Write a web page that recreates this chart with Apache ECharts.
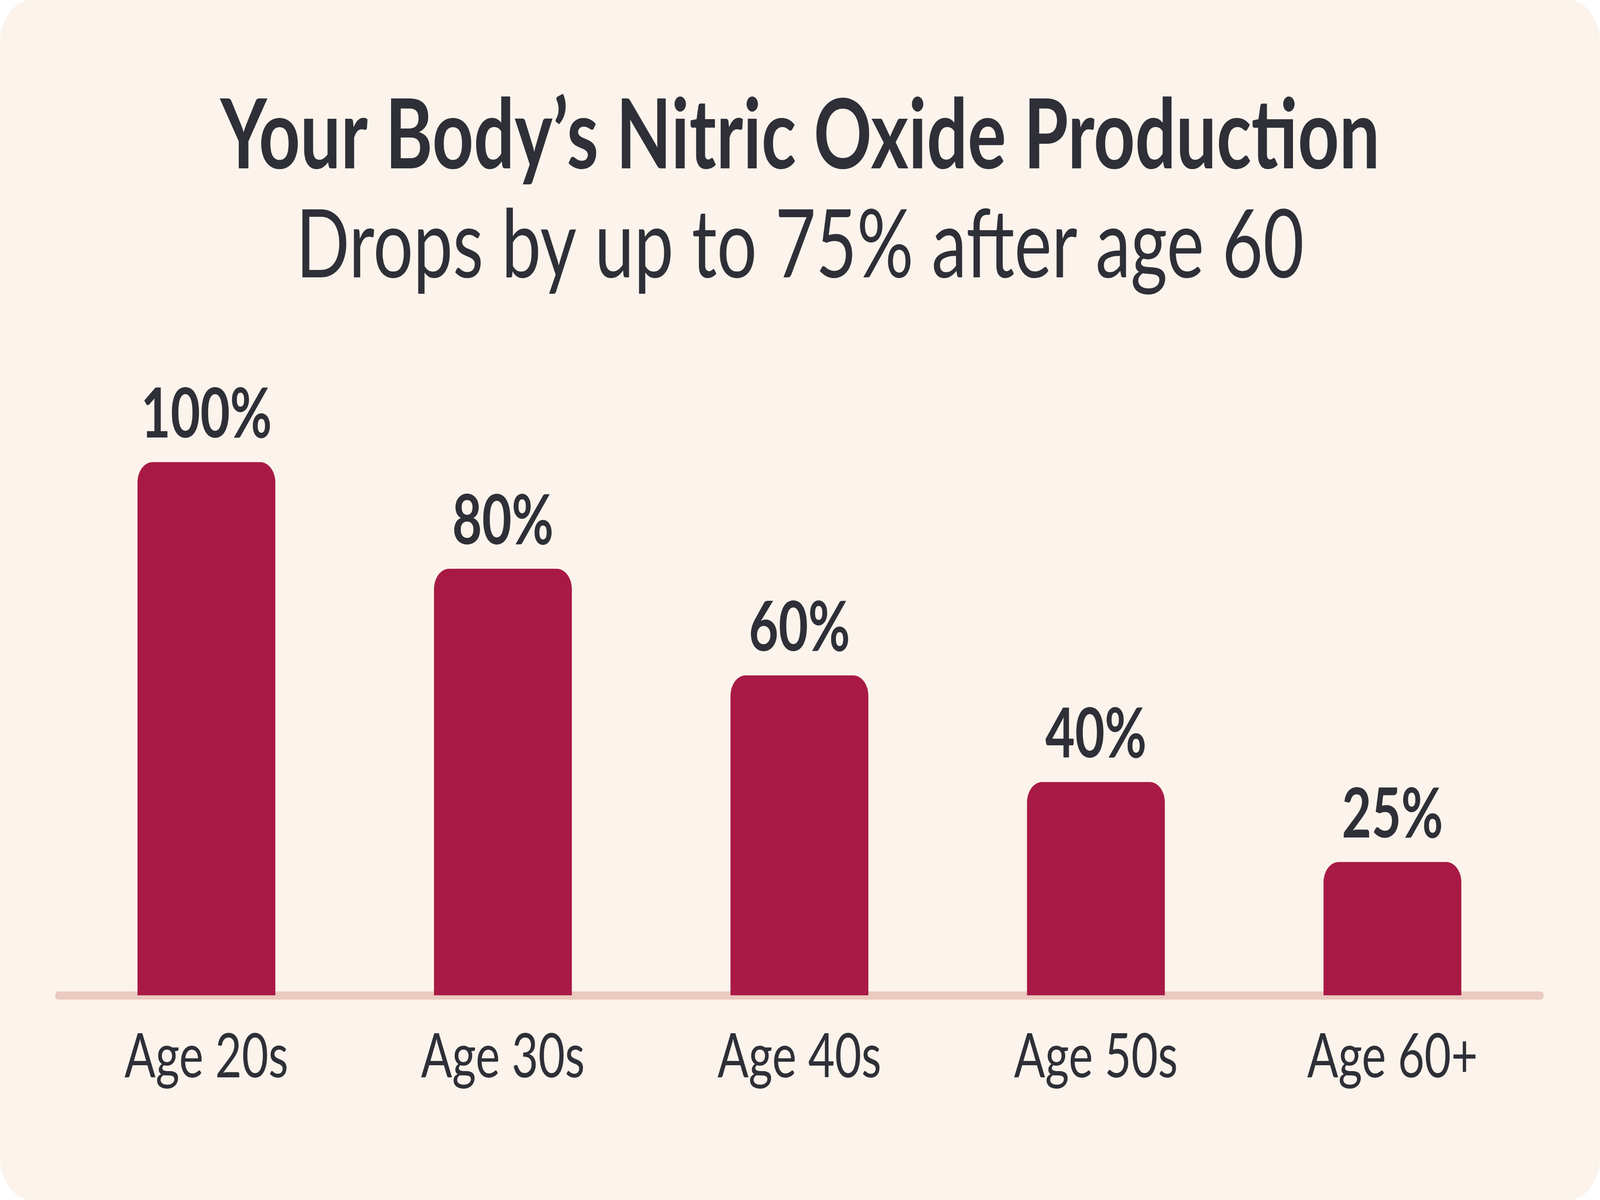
<!DOCTYPE html>
<html>
<head>
<meta charset="utf-8">
<script src="https://cdn.jsdelivr.net/npm/echarts@6/dist/echarts.min.js"></script>
<style>
  html, body { margin: 0; padding: 0; background: #ffffff; overflow: hidden; }
  #chart { width: 5504px; height: 3072px; transform-origin: 0 0; }
</style>
</head>
<body>
<div id="chart"></div>
<script>
// data
var ageGroups = ['Age 20s', 'Age 30s', 'Age 40s', 'Age 50s', 'Age 60+'];
var noLevels = [100, 80, 60, 40, 25];   // % of nitric oxide production

var titleText = 'Your Body\u2019s Nitric Oxide Production';
var subText = 'Drops by up to 75% after age 60';

var inkColor = '#2e2f37';
var barColor = '#a81a45';
var fontName = 'Lato, "Noto Sans", sans-serif';

// the chart is laid out for 5504x3072, fit it to whatever window we get
var el = document.getElementById('chart');
el.style.transform = 'scale(' + (window.innerWidth / 5504) + ',' + (window.innerHeight / 3072) + ')';

var chart = echarts.init(el);

var option = {
    backgroundColor: 'transparent',
    graphic: [{
        type: 'rect',
        z: -10,
        silent: true,
        shape: { x: 0, y: 0, width: 5504, height: 3072, r: 110 },
        style: { fill: '#fbf3ec' }
    }],
    title: [{
        text: titleText,
        left: 'center',
        top: 222,
        textStyle: { fontFamily: fontName, fontWeight: 'bold', fontSize: 248, color: inkColor }
    }, {
        text: subText,
        left: 'center',
        top: 505,
        textStyle: { fontFamily: fontName, fontWeight: 'normal', fontSize: 243, color: inkColor }
    }],
    grid: { left: 200, right: 204, top: 1183, bottom: 524 },
    xAxis: {
        type: 'category',
        data: ageGroups,
        axisLine: { show: true, lineStyle: { color: '#ebcac0', width: 21, cap: 'round' } },
        axisTick: { show: false },
        axisLabel: { margin: 80, fontFamily: fontName, fontSize: 158, color: inkColor }
    },
    yAxis: {
        type: 'value',
        min: 0,
        max: 100,
        show: false,
        splitLine: { show: false }
    },
    series: [{
        type: 'bar',
        data: noLevels,
        barWidth: 474,
        itemStyle: { color: barColor, borderRadius: [52, 52, 0, 0] },
        label: {
            show: true,
            position: 'top',
            distance: 32,
            formatter: '{c}%',
            fontFamily: fontName,
            fontWeight: 'bold',
            fontSize: 176,
            color: inkColor
        }
    }]
};

chart.setOption(option);
</script>
</body>
</html>
